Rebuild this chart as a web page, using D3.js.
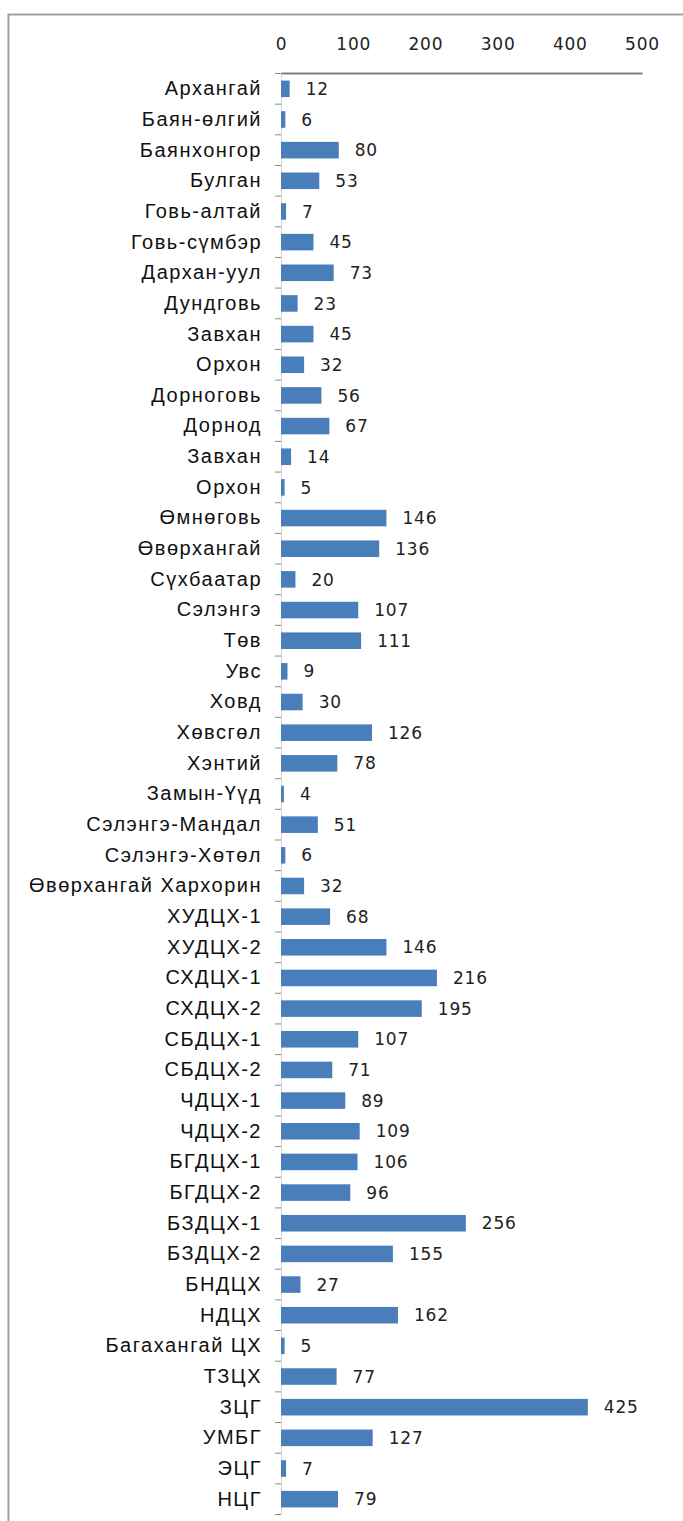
<!DOCTYPE html>
<html><head><meta charset="utf-8">
<script src="https://cdn.jsdelivr.net/npm/d3@7/dist/d3.min.js"></script>
<style>
html,body{margin:0;padding:0;background:#fff;}
svg{display:block;}
</style></head>
<body>
<svg id="chart" width="683" height="1521"></svg>
<script>
const categories = ["Архангай","Баян-өлгий","Баянхонгор","Булган","Говь-алтай","Говь-сүмбэр","Дархан-уул","Дундговь","Завхан","Орхон","Дорноговь","Дорнод","Завхан","Орхон","Өмнөговь","Өвөрхангай","Сүхбаатар","Сэлэнгэ","Төв","Увс","Ховд","Хөвсгөл","Хэнтий","Замын-Үүд","Сэлэнгэ-Мандал","Сэлэнгэ-Хөтөл","Өвөрхангай Хархорин","ХУДЦХ-1","ХУДЦХ-2","СХДЦХ-1","СХДЦХ-2","СБДЦХ-1","СБДЦХ-2","ЧДЦХ-1","ЧДЦХ-2","БГДЦХ-1","БГДЦХ-2","БЗДЦХ-1","БЗДЦХ-2","БНДЦХ","НДЦХ","Багахангай ЦХ","ТЗЦХ","ЗЦГ","УМБГ","ЭЦГ","НЦГ"];
const values = [12,6,80,53,7,45,73,23,45,32,56,67,14,5,146,136,20,107,111,9,30,126,78,4,51,6,32,68,146,216,195,107,71,89,109,106,96,256,155,27,162,5,77,425,127,7,79];
const tickValues = [0,100,200,300,400,500];

const svg = d3.select("#chart");
const keys = categories.map((c,i)=>i);
const x = d3.scaleLinear().domain([0,500]).range([281,642]);
const y = d3.scaleBand().domain(keys).range([73.5,1514.5]).paddingInner(0.46).paddingOuter(0.23);

// frame
svg.append("path").attr("d","M8.5,1521 V14.5 H683").attr("fill","none").attr("stroke","#a0a0a0").attr("stroke-width",2);

// top axis
const xAxis = d3.axisTop(x).tickValues(tickValues).tickSize(0).tickPadding(0).tickFormat(d3.format("d"));
const gx = svg.append("g").attr("transform","translate(0,73)").call(xAxis);
gx.select(".domain").attr("stroke","#808080").attr("stroke-width",1.8);
gx.selectAll("text").attr("y",-23).attr("dy",0).attr("font-family","DejaVu Sans").attr("font-size","17px").attr("letter-spacing","0.8px").attr("fill","#222");

// category axis
const yAxis = d3.axisLeft(y).tickSize(0).tickPadding(19).tickFormat(i=>categories[i]);
const gy = svg.append("g").attr("transform","translate(281,0)").call(yAxis);
gy.select(".domain").attr("stroke","#d4d4d4");
gy.selectAll("text").attr("font-family","Liberation Sans").attr("font-size","20px").attr("letter-spacing","1.5px").attr("fill","#111");
// boundary ticks
svg.append("g").selectAll("line").data(keys.concat([keys.length]))
  .join("line")
  .attr("x1",275).attr("x2",281)
  .attr("y1",i=>73.5+i*y.step()).attr("y2",i=>73.5+i*y.step())
  .attr("stroke","#8a8a8a");

// bars
svg.append("g").selectAll("rect").data(values).join("rect")
  .attr("x",x(0)).attr("y",(d,i)=>y(i))
  .attr("width",d=>x(d)-x(0)).attr("height",y.bandwidth())
  .attr("fill","#4a7ebb");

// value labels
svg.append("g").selectAll("text").data(values).join("text")
  .attr("x",d=>x(d)+16).attr("y",(d,i)=>y(i)+y.bandwidth()/2)
  .attr("dy","0.36em")
  .attr("font-family","DejaVu Sans").attr("font-size","17px").attr("letter-spacing","0.8px").attr("fill","#222")
  .text(d=>d);
</script>
</body></html>
